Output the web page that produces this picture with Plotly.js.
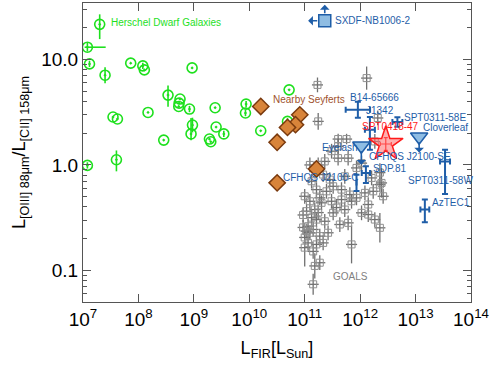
<!DOCTYPE html>
<html><head><meta charset="utf-8">
<script src="https://cdn.plot.ly/plotly-3.0.1.min.js"></script>
<style>html,body{margin:0;padding:0;background:#fff}</style>
</head><body><div id="chart" style="width:491px;height:378px"></div>
<script>
// ---------------- data ----------------
// Herschel Dwarf Galaxies
const dwarfL = [2.0e7,1.2e7,1.31e7,2.5e7,7.26e7,1.2e8,1.28e8,9.3e8,3.42e8,5.63e8,5.41e8,5.34e8,8.34e8,2.42e9,8.76e9,8.53e9,3.48e7,4.18e7,1.49e8,9.44e8,8.9e8,2.52e9,3.47e9,2.86e8,1.91e9,2.02e9,1.61e10,5.23e10,4.89e10,1.2e7,4.01e7];
const dwarfR = [21.6,13.1,9.1,7.11,9.25,8.71,7.98,8.34,4.6,4.22,3.86,3.59,3.39,3.49,3.78,3.11,2.85,2.73,3.15,2.39,1.97,2.29,1.97,1.72,1.76,1.66,2.11,5.16,2.59,0.99,1.12];
const dwarfErrUpDex = [0.095,0.04,0.03,0.076,0,0.03,0,0,0.09,0,0,0,0.03,0,0.03,0.03,0,0,0,0.07,0.15,0,0.03,0,0,0,0,0,0.03,0.03,0.088];
const dwarfErrDnDex = [0.14,0.04,0.03,0.076,0,0.03,0,0,0.11,0,0,0,0.03,0,0.03,0.03,0,0,0,0.07,0.06,0,0.03,0,0,0,0,0,0.03,0.03,0.11];
const dwarfXErrUpDex = [0,0.33,0,0,0,0,0,0,0,0,0,0,0,0,0,0,0,0,0,0,0,0,0,0,0,0,0,0,0,0,0];
const dwarfXErrDnDex = [0,0.05,0,0,0,0,0,0,0,0,0,0,0,0,0,0,0,0,0,0,0,0,0,0,0,0,0,0,0,0,0];

// Nearby Seyferts
const seyL = [1.61e10,8.15e10,6.82e10,4.89e10,3.18e10,1.63e11,3.18e10];
const seyR = [3.59,2.99,2.41,2.27,1.64,0.916,0.676];

// GOALS
const goalsL = [1.70e11,1.31e12,1.75e11,2.08e12,4.01e11,5.69e11,1.84e12,3.05e11,4.0e11,1.06e12,2.43e12,2.27e12,1.24e11,1.75e11,2.30e11,4.0e11,6.07e11,1.33e11,1.63e11,1.87e11,2.47e11,3.26e11,4.61e11,6.52e11,1.0e11,1.24e11,8.6e11,1.22e12,1.72e12,2.27e12,2.60e12,1.40e12,1.08e11,1.52e11,2.01e11,3.05e11,4.61e11,7.0e11,3.26e11,2.30e11,1.63e11,1.06e12,1.40e12,1.84e12,2.27e12,4.30e11,6.07e11,1.15e11,1.08e11,1.24e11,1.42e11,1.87e11,2.15e11,1.15e11,1.0e11,7.0e11,1.87e11,1.52e11,1.42e11,2.64e11,9.35e10,9.35e10,1.33e11,1.75e11,1.63e11,1.0e11,1.42e11,2.83e11,5.28e11,8.6e11,1.61e12,2.15e11,3.74e11,5.28e11];
const goalsR = [5.75,6.67,2.59,2.79,1.76,1.76,1.67,1.35,1.50,1.04,0.675,0.845,1.0,1.0,1.08,1.16,1.16,0.70,0.583,0.487,0.562,0.627,0.583,0.523,0.504,0.452,0.487,0.543,0.562,0.651,0.504,0.421,0.364,0.377,0.437,0.452,0.469,0.452,0.351,0.292,0.303,0.351,0.338,0.303,0.253,0.272,0.282,0.262,0.235,0.227,0.244,0.211,0.182,0.182,0.164,0.176,0.118,0.110,0.0736,0.227,0.335,0.255,0.316,0.353,0.176,0.205,0.151,0.726,0.78,0.937,0.753,0.81,0.394,0.377];
const goalsErrDex = [0.07,0.11,0.08,0.07,0.05,0.05,0.07,0.07,0.07,0.07,0.14,0.09,0.07,0.07,0.07,0.07,0.07,0.07,0.07,0.07,0.07,0.07,0.07,0.07,0.07,0.07,0.07,0.07,0.07,0.07,0.07,0.07,0.07,0.07,0.07,0.07,0.07,0.07,0.07,0.07,0.07,0.07,0.07,0.07,0.14,0.07,0.07,0.07,0.07,0.07,0.07,0.07,0.07,0.07,0.18,0.18,0.07,0.12,0.10,0.07,0.07,0.07,0.07,0.07,0.07,0.07,0.07,0.07,0.07,0.07,0.07,0.07,0.07,0.07];
const goalsXErrDex = 0.1;

// High-z sources with error bars
const hzNames = ['B14-65666','J1342','SPT0311-58E','SDP.81','CFHQS J2100-C','SPT0311-58W','AzTEC1'];
const hzL = [9.1e11,1.5e12,4.7e12,1.27e12,8.6e11,3.4e13,1.47e13];
const hzR = [3.34,2.16,2.55,0.84,0.68,1.08,0.377];
const hzXErrDex = [0.22,0.09,0.09,0.075,0,0.09,0.08];
const hzYErrUpDex = [0.076,0.12,0.045,0.063,0.075,0.11,0.095];
const hzYErrDnDex = [0.076,0.19,0.045,0.095,0.08,0.31,0.12];

// Upper limits (triangles)
const ulNames = ['Eyelash','Cloverleaf'];
const ulL = [1.05e12,1.16e13];
const ulR = [1.52,1.85];
const ulArrowDex = [0.18,0.15];

// SXDF-NB1006-2 (lower limit in ratio, upper limit in L_FIR)
const sxL = [2.3e11];
const sxR = [23.4];
const sxArrowUpDex = 0.15;
const sxArrowLeftDex = 0.3;

// SPT0418-47
const sptL = [2.9e12];
const sptR = [1.58];
const sptXErrDex = [0.1];
const sptYErrDex = [0.06];

// Text labels
const labelText = ['Herschel Dwarf Galaxies','Nearby Seyferts','GOALS','SXDF-NB1006-2','B14-65666','J1342','SPT0311-58E','Cloverleaf','SPT0418-47','Eyelash','CFHQS J2100-SE','SDP.81','CFHQS J2100-C','SPT0311-58W','AzTEC1'];
const labelL = [3.03e7,2.55e10,3.08e11,3.35e11,6.25e11,1.21e12,5.89e12,1.33e13,1.05e12,1.95e11,1.38e12,1.63e12,3.86e10,6.95e12,1.88e13];
const labelR = [22.4,4.15,0.0881,23.4,4.39,3.27,2.84,2.28,2.31,1.47,1.21,0.923,0.766,0.710,0.44];
const labelGroup = ['dwarf','sey','goals','hz','hz','hz','hz','hz','spt','hz','hz','hz','hz','hz','hz'];

const xTickVals = [1e7,1e8,1e9,1e10,1e11,1e12,1e13,1e14];
const xTickText = ['10<sup>7</sup>','10<sup>8</sup>','10<sup>9</sup>','10<sup>10</sup>','10<sup>11</sup>','10<sup>12</sup>','10<sup>13</sup>','10<sup>14</sup>'];
const yTickVals = [0.1,1,10];
const yTickText = ['0.1','1.0','10.0'];
const yMinorVals = [0.06,0.07,0.08,0.09,0.2,0.3,0.4,0.5,0.6,0.7,0.8,0.9,2,3,4,5,6,7,8,9,20,30];

// ---------------- helpers ----------------
const up = (v,d)=>v.map((x,i)=>x*(Math.pow(10,d[i])-1));
const dn = (v,d)=>v.map((x,i)=>x*(1-Math.pow(10,-d[i])));
const cst = (v,d)=>v.map(()=>d);

const GREEN='#1ee01e', BROWN='#a0522d', GRAY='#7f7f7f', BLUE='#1f5ea8', LBLUE='#8fbde3', RED='#ff1a1a';
const colorOf = {dwarf:GREEN, sey:BROWN, goals:GRAY, hz:BLUE, spt:RED};

const traces = [];
// GOALS
traces.push({x:goalsL, y:goalsR, mode:'markers', type:'scatter',
  marker:{symbol:'square-open', size:7, color:'#8f8f8f', line:{width:1}},
  error_y:{type:'data', symmetric:false, array:up(goalsR,goalsErrDex), arrayminus:dn(goalsR,goalsErrDex), color:'#707070', thickness:1.3, width:0},
  error_x:{type:'data', symmetric:false, array:up(goalsL,cst(goalsL,goalsXErrDex)), arrayminus:dn(goalsL,cst(goalsL,goalsXErrDex)), color:'#707070', thickness:1.3, width:0},
  hoverinfo:'skip'});
// Dwarfs
traces.push({x:dwarfL, y:dwarfR, mode:'markers', type:'scatter',
  marker:{symbol:'circle-open-dot', size:10, color:GREEN, line:{width:1.6}},
  error_y:{type:'data', symmetric:false, array:up(dwarfR,dwarfErrUpDex), arrayminus:dn(dwarfR,dwarfErrDnDex), color:GREEN, thickness:1.6, width:0},
  error_x:{type:'data', symmetric:false, array:up(dwarfL,dwarfXErrUpDex), arrayminus:dn(dwarfL,dwarfXErrDnDex), color:GREEN, thickness:1.6, width:0},
  hoverinfo:'skip'});
// Seyferts
traces.push({x:seyL, y:seyR, mode:'markers', type:'scatter',
  marker:{symbol:'diamond', size:12.5, color:'#d8843a', line:{width:1.5, color:'#7a3a0e'}},
  error_y:{type:'data', symmetric:false, array:up(seyR,cst(seyR,0.025)), arrayminus:dn(seyR,cst(seyR,0.025)), color:'#5a2a08', thickness:1, width:1.5},
  hoverinfo:'skip'});
// High-z crosses
traces.push({x:hzL, y:hzR, mode:'markers', type:'scatter',
  marker:{size:1, color:BLUE},
  error_y:{type:'data', symmetric:false, array:up(hzR,hzYErrUpDex), arrayminus:dn(hzR,hzYErrDnDex), color:BLUE, thickness:2, width:3},
  error_x:{type:'data', symmetric:false, array:up(hzL,hzXErrDex), arrayminus:dn(hzL,hzXErrDex), color:BLUE, thickness:2, width:3},
  hoverinfo:'skip'});
// Upper-limit triangles
traces.push({x:ulL, y:ulR, mode:'markers', type:'scatter',
  marker:{symbol:'triangle-down', size:15, color:LBLUE, line:{width:1.5, color:BLUE}}, hoverinfo:'skip'});
// SXDF
traces.push({x:sxL, y:sxR, mode:'markers', type:'scatter',
  marker:{symbol:'square', size:12, color:LBLUE, line:{width:1.5, color:BLUE}}, hoverinfo:'skip'});
// SPT0418-47
traces.push({x:sptL, y:sptR, mode:'markers', type:'scatter',
  marker:{symbol:'star', size:26, color:'rgba(255,110,110,0.55)', line:{width:1.5, color:RED}},
  error_y:{type:'data', symmetric:false, array:up(sptR,sptYErrDex), arrayminus:dn(sptR,sptYErrDex), color:RED, thickness:1.2, width:2},
  error_x:{type:'data', symmetric:false, array:up(sptL,sptXErrDex), arrayminus:dn(sptL,sptXErrDex), color:RED, thickness:1.2, width:2},
  hoverinfo:'skip'});

const L10 = Math.log10;
const annotations = [];
labelText.forEach((t,i)=>{
  annotations.push({x:L10(labelL[i]), y:L10(labelR[i]), xref:'x', yref:'y', text:t, showarrow:false,
    xanchor:'left', yanchor:'middle', borderpad:0,
    font:{size:10, color:colorOf[labelGroup[i]], family:'"Liberation Sans", Arial, sans-serif'}});
});
// limit arrows
ulL.forEach((l,i)=>{
  annotations.push({x:L10(l), y:L10(ulR[i])-ulArrowDex[i], ax:L10(l), ay:L10(ulR[i]), xref:'x', yref:'y', axref:'x', ayref:'y',
    showarrow:true, arrowhead:1, arrowsize:1, arrowwidth:1.6, arrowcolor:BLUE, text:'', startstandoff:4});
});
annotations.push({x:L10(sxL[0]), y:L10(sxR[0])+sxArrowUpDex, ax:L10(sxL[0]), ay:L10(sxR[0]), xref:'x', yref:'y', axref:'x', ayref:'y',
  showarrow:true, arrowhead:1, arrowsize:1, arrowwidth:1.6, arrowcolor:BLUE, text:'', startstandoff:6});
annotations.push({x:L10(sxL[0])-sxArrowLeftDex, y:L10(sxR[0]), ax:L10(sxL[0]), ay:L10(sxR[0]), xref:'x', yref:'y', axref:'x', ayref:'y',
  showarrow:true, arrowhead:1, arrowsize:1, arrowwidth:1.6, arrowcolor:BLUE, text:'', startstandoff:6});

const FONT='"Liberation Sans", Arial, Helvetica, sans-serif';
const AX = '#555';
const layout = {
  width:491, height:378,
  margin:{l:83, r:20, t:3, b:76},
  paper_bgcolor:'#fff', plot_bgcolor:'#fff',
  showlegend:false,
  font:{family:FONT, color:'#000'},
  xaxis:{type:'log', range:[7,14], tickmode:'array', tickvals:xTickVals, ticktext:xTickText,
    ticks:'inside', ticklen:8, tickwidth:1, tickcolor:AX, linecolor:AX, linewidth:1, mirror:'ticks',
    showgrid:false, zeroline:false, automargin:false, tickfont:{size:19, family:FONT},
    title:{text:'L<sub>FIR</sub>[L<sub>Sun</sub>]', font:{size:18, family:FONT}, standoff:12}},
  yaxis:{type:'log', range:[L10(0.05), 1.537], tickmode:'array', tickvals:yTickVals, ticktext:yTickText,
    ticks:'inside', ticklen:8, tickwidth:1, tickcolor:AX, linecolor:AX, linewidth:1, mirror:'allticks',
    minor:{tickmode:'array', tickvals:yMinorVals, ticks:'inside', ticklen:4, tickcolor:AX, tickwidth:1, showgrid:false},
    showgrid:false, zeroline:false, automargin:false, tickfont:{size:19, family:FONT},
    title:{text:'L<sub>[OIII] 88μm</sub>/L<sub>[CII] 158μm</sub>', font:{size:18, family:FONT}, standoff:10}},
  annotations:annotations
};
Plotly.newPlot('chart', traces, layout, {staticPlot:true, displayModeBar:false});
</script>
</body></html>
